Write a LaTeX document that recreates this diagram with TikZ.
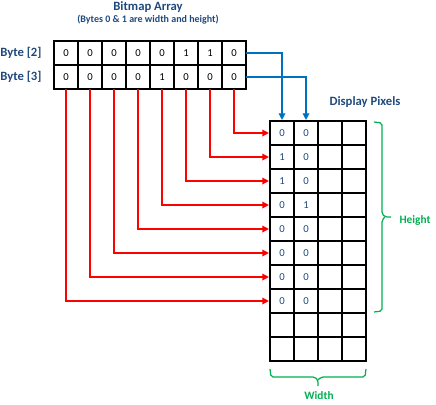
\documentclass[tikz,border=0pt]{standalone}
\usepackage{fontspec}
\setmainfont{Carlito}
\usetikzlibrary{arrows.meta}
\definecolor{textblue}{HTML}{1F497D}
\definecolor{linkblue}{HTML}{0070C0}
\definecolor{linkred}{HTML}{FF0000}
\definecolor{sizegreen}{HTML}{00B050}
\begin{document}
\begin{tikzpicture}[x=0.75pt,y=-0.75pt,
    cell/.style={draw,line width=2pt,minimum size=18pt,inner sep=0pt,outer sep=0pt,
      font=\fontsize{8}{9}\selectfont},
    pixel/.style={cell,text=textblue},
    tag/.style={text=textblue,inner sep=0pt,font=\bfseries\fontsize{9.5}{11}\selectfont},
    sizetag/.style={text=sizegreen,inner sep=0pt,font=\bfseries\fontsize{8.5}{10}\selectfont},
    redlink/.style={draw=linkred,line width=0.9pt,shorten >=0.8pt,
      -{Triangle[length=5pt,width=5pt]}},
    bluelink/.style={draw=linkblue,line width=0.9pt,shorten >=0.8pt,
      -{Triangle[length=5pt,width=5pt]}},
    sizebrace/.style={draw=sizegreen,line width=0.9pt,rounded corners=1.5pt}]
    \useasboundingbox (0,0) rectangle (436,404);

    % Titulos
    \node[tag] (title) at (148,7) {Bitmap Array};
    \node[tag,font=\bfseries\fontsize{7.5}{9}\selectfont] (subtitle) at (148,20) {(Bytes 0 \& 1 are width and height)};

    % Bytes del bitmap
    \node[tag,anchor=west] (byte2) at (0,53) {Byte [2]};
    \node[tag,anchor=west] (byte3) at (0,77) {Byte [3]};
    \foreach \v [count=\i from 0] in {0,0,0,0,0,1,1,0}
        \node[cell] (b2-\i) at (66+24*\i,53) {\v};
    \foreach \v [count=\i from 0] in {0,0,0,0,1,0,0,0}
        \node[cell] (b3-\i) at (66+24*\i,77) {\v};

    % Pixeles de la pantalla
    \node[tag] (display) at (365,102) {Display Pixels};
    \foreach \r/\p/\q in {0/0/0,1/1/0,2/1/0,3/0/1,4/0/0,5/0/0,6/0/0,7/0/0,8/{}/{},9/{}/{}} {
        \node[pixel] (px-\r-0) at (282,133+24*\r) {\p};
        \node[pixel] (px-\r-1) at (306,133+24*\r) {\q};
        \node[pixel] (px-\r-2) at (330,133+24*\r) {};
        \node[pixel] (px-\r-3) at (354,133+24*\r) {};
    }

    % Conexiones
    \draw[bluelink] (b2-7.east) -| (px-0-0.north);
    \draw[bluelink] (b3-7.east) -| (px-0-1.north);
    \foreach \i in {0,...,7} {
        \pgfmathtruncatemacro\r{7-\i}
        \draw[redlink] (b3-\i.south) |- (px-\r-0.west);
    }

    % Llaves de alto y ancho
    \draw[sizebrace] (374,122) -- (382,123) -- (382,214) -- (385,217) -- (391,217);
    \draw[sizebrace] (385,217) -- (382,220) -- (382,311) -- (374,312);
    \node[sizetag] (height) at (415,220) {Height};
    \draw[sizebrace] (270,369) -- (271,377) -- (315,377) -- (318,380) -- (318,386);
    \draw[sizebrace] (318,380) -- (321,377) -- (365,377) -- (366,369);
    \node[sizetag] (width) at (319,396) {Width};
\end{tikzpicture}
\end{document}
